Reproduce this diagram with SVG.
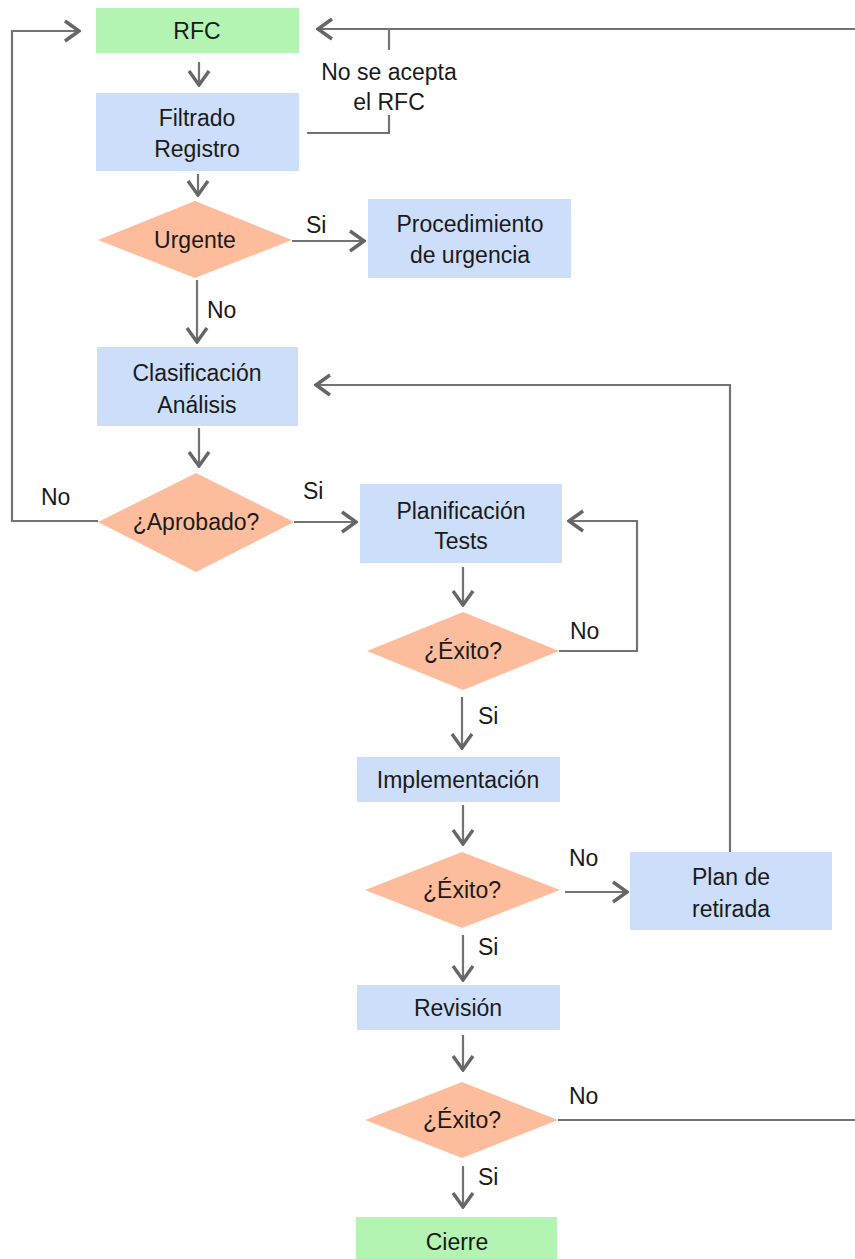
<svg xmlns="http://www.w3.org/2000/svg" width="855" height="1259" viewBox="0 0 855 1259">
  <style>
    .proc { fill: #cddefb; }
    .term { fill: #b3f4b3; }
    .dec { fill: #fdbd9c; }
    .lbl { font-family: "Liberation Sans", Arial, sans-serif; font-size: 23px; fill: #1a1a1a; text-anchor: middle; }
    .tag { font-family: "Liberation Sans", Arial, sans-serif; font-size: 23px; fill: #1a1a1a; }
    .wire { fill: none; stroke: #737373; stroke-width: 2.2; }
  </style>
  <defs>
    <marker id="arrow" viewBox="-17 -13 19 26" refX="0" refY="0" markerWidth="19" markerHeight="26" markerUnits="userSpaceOnUse" orient="auto">
      <path d="M-14,-10 L0,0 L-14,10" fill="none" stroke="#666" stroke-width="3.4" stroke-linejoin="miter"/>
    </marker>
  </defs>
  <rect width="855" height="1259" fill="#ffffff"/>

  <!-- connectors -->
  <g id="connectors">
    <line class="wire" x1="199" y1="62" x2="199" y2="85" marker-end="url(#arrow)"/>
    <line class="wire" x1="198" y1="174" x2="198" y2="195" marker-end="url(#arrow)"/>
    <line class="wire" x1="292" y1="241" x2="364" y2="241" marker-end="url(#arrow)"/>
    <line class="wire" x1="197" y1="280" x2="197" y2="342" marker-end="url(#arrow)"/>
    <line class="wire" x1="199" y1="428" x2="199" y2="466" marker-end="url(#arrow)"/>
    <line class="wire" x1="294" y1="522" x2="356" y2="522" marker-end="url(#arrow)"/>
    <polyline class="wire" points="98,521 12,521 12,31 79,31" marker-end="url(#arrow)"/>
    <line class="wire" x1="463" y1="567" x2="463" y2="605" marker-end="url(#arrow)"/>
    <polyline class="wire" points="559,651 637,651 637,521 569,521" marker-end="url(#arrow)"/>
    <line class="wire" x1="462" y1="697" x2="462" y2="748" marker-end="url(#arrow)"/>
    <line class="wire" x1="463" y1="805" x2="463" y2="844" marker-end="url(#arrow)"/>
    <line class="wire" x1="565" y1="892" x2="627" y2="892" marker-end="url(#arrow)"/>
    <polyline class="wire" points="730,852 730,385 316,385" marker-end="url(#arrow)"/>
    <line class="wire" x1="463" y1="935" x2="463" y2="980" marker-end="url(#arrow)"/>
    <line class="wire" x1="463" y1="1035" x2="463" y2="1070" marker-end="url(#arrow)"/>
    <line class="wire" x1="558" y1="1120" x2="855" y2="1120"/>
    <line class="wire" x1="463" y1="1166" x2="463" y2="1207" marker-end="url(#arrow)"/>
    <line class="wire" x1="855" y1="29" x2="318" y2="29" marker-end="url(#arrow)"/>
    <polyline class="wire" points="307,133 389,133 389,115"/>
    <line class="wire" x1="389" y1="50" x2="389" y2="29"/>
    <!-- branch labels -->
    <text class="lbl" x="389" y="80">No se acepta</text>
    <text class="lbl" x="389" y="110">el RFC</text>
    <text class="tag" x="306" y="233">Si</text>
    <text class="tag" x="207" y="318">No</text>
    <text class="tag" x="41" y="505">No</text>
    <text class="tag" x="303" y="499">Si</text>
    <text class="tag" x="570" y="639">No</text>
    <text class="tag" x="478" y="724">Si</text>
    <text class="tag" x="569" y="866">No</text>
    <text class="tag" x="478" y="955">Si</text>
    <text class="tag" x="569" y="1104">No</text>
    <text class="tag" x="478" y="1185">Si</text>
  </g>

  <g id="rfc">
    <rect class="term" x="96" y="8" width="203" height="45"/>
    <text class="lbl" x="197" y="39">RFC</text>
  </g>
  <g id="filtrado">
    <rect class="proc" x="96" y="93" width="203" height="78"/>
    <text class="lbl" x="197" y="126">Filtrado</text>
    <text class="lbl" x="197" y="157">Registro</text>
  </g>
  <g id="urgente">
    <polygon class="dec" points="98,240 195,201 292,240 195,278"/>
    <text class="lbl" x="195" y="248">Urgente</text>
  </g>
  <g id="procedimiento">
    <rect class="proc" x="368" y="199" width="203" height="79"/>
    <text class="lbl" x="470" y="232">Procedimiento</text>
    <text class="lbl" x="470" y="263">de urgencia</text>
  </g>
  <g id="clasificacion">
    <rect class="proc" x="97" y="347" width="201" height="79"/>
    <text class="lbl" x="197" y="381">Clasificación</text>
    <text class="lbl" x="197" y="413">Análisis</text>
  </g>
  <g id="aprobado">
    <polygon class="dec" points="98,522 196,473 294,522 196,572"/>
    <text class="lbl" x="196" y="530">¿Aprobado?</text>
  </g>
  <g id="planificacion">
    <rect class="proc" x="360" y="484" width="202" height="79"/>
    <text class="lbl" x="461" y="519">Planificación</text>
    <text class="lbl" x="461" y="549">Tests</text>
  </g>
  <g id="exito-tests">
    <polygon class="dec" points="367,651 463,612 559,651 463,690"/>
    <text class="lbl" x="463" y="659">¿Éxito?</text>
  </g>
  <g id="implementacion">
    <rect class="proc" x="357" y="757" width="203" height="45"/>
    <text class="lbl" x="458" y="788">Implementación</text>
  </g>
  <g id="exito-impl">
    <polygon class="dec" points="365,890 462,852 560,890 462,928"/>
    <text class="lbl" x="462" y="898">¿Éxito?</text>
  </g>
  <g id="plan-retirada">
    <rect class="proc" x="630" y="852" width="202" height="78"/>
    <text class="lbl" x="731" y="885">Plan de</text>
    <text class="lbl" x="731" y="917">retirada</text>
  </g>
  <g id="revision">
    <rect class="proc" x="357" y="985" width="203" height="45"/>
    <text class="lbl" x="458" y="1016">Revisión</text>
  </g>
  <g id="exito-revision">
    <polygon class="dec" points="365,1120 462,1082 558,1120 462,1158"/>
    <text class="lbl" x="462" y="1128">¿Éxito?</text>
  </g>
  <g id="cierre">
    <rect class="term" x="356" y="1217" width="201" height="45"/>
    <text class="lbl" x="457" y="1250">Cierre</text>
  </g>
</svg>
